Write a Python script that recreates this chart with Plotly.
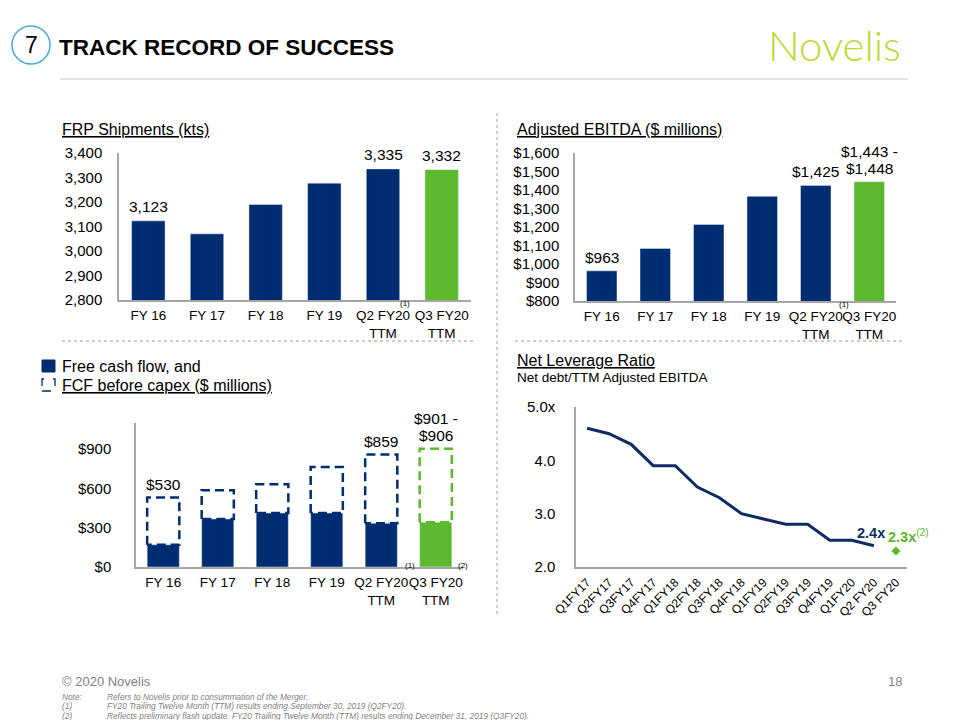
import plotly.graph_objects as go

# ---------------- data ----------------
bar_cats = ["FY 16", "FY 17", "FY 18", "FY 19", "Q2 FY20<br>TTM", "Q3 FY20<br>TTM"]
frp_values = [3123, 3070, 3190, 3277, 3335, 3332]
frp_labels = ["3,123", "", "", "", "3,335", "3,332"]

ebitda_values = [963, 1084, 1214, 1366, 1425, 1445]
ebitda_labels = ["$963", "", "", "", "$1,425", "$1,443 -<br>$1,448"]

fcf_values = [170, 367, 412, 412, 334, 341]
fcf_before_capex = [530, 586, 632, 763, 859, 903]
fcf_labels = ["$530", "", "", "", "$859", "$901 -<br>$906"]

lev_cats = ["Q1FY17", "Q2FY17", "Q3FY17", "Q4FY17", "Q1FY18", "Q2FY18", "Q3FY18",
            "Q4FY18", "Q1FY19", "Q2FY19", "Q3FY19", "Q4FY19", "Q1FY20", "Q2 FY20", "Q3 FY20"]
lev_values = [4.6, 4.5, 4.3, 3.9, 3.9, 3.5, 3.3, 3.0, 2.9, 2.8, 2.8, 2.5, 2.5, 2.4]
lev_flash = 2.3

frp_ticks = [2800, 2900, 3000, 3100, 3200, 3300, 3400]
ebitda_ticks = [800, 900, 1000, 1100, 1200, 1300, 1400, 1500, 1600]
fcf_ticks = [0, 300, 600, 900]
lev_ticks = [2.0, 3.0, 4.0, 5.0]
lev_ticktext = ["2.0", "3.0", "4.0", "5.0x"]

# ---------------- style ----------------
NAVY = "#002d72"
GREEN = "#5cb82c"
LINE_NAVY = "#0e2b63"
AXIS = "#a6a6a6"
FONT = "Liberation Sans, Arial, sans-serif"
W, H = 960, 720
OFF = 8  # page body margin


def X(px):
    return (px - OFF) / W


def Y(py):
    return 1 - (py - OFF) / H


bar_colors = [NAVY] * 5 + [GREEN]
BW = 0.57

fig = go.Figure()

# Chart 1: FRP shipments
fig.add_trace(go.Bar(x=list(range(6)), y=frp_values, marker_color=bar_colors,
                     width=BW, xaxis="x", yaxis="y", showlegend=False))
# Chart 2: EBITDA
fig.add_trace(go.Bar(x=list(range(6)), y=ebitda_values, marker_color=bar_colors,
                     width=BW, xaxis="x2", yaxis="y2", showlegend=False))
# Chart 3: FCF solid bars
fig.add_trace(go.Bar(x=list(range(6)), y=fcf_values, marker_color=bar_colors,
                     width=0.59, xaxis="x3", yaxis="y3", showlegend=False))
# Chart 3: dashed FCF-before-capex boxes
hw = 0.59 / 2
for i in range(6):
    fig.add_trace(go.Scatter(
        x=[i - hw, i - hw, i + hw, i + hw, i - hw],
        y=[fcf_values[i], fcf_before_capex[i], fcf_before_capex[i], fcf_values[i], fcf_values[i]],
        mode="lines", line=dict(color=bar_colors[i], width=2.5, dash="9px,5px"),
        xaxis="x3", yaxis="y3", showlegend=False, hoverinfo="skip"))

# Chart 4: leverage line
fig.add_trace(go.Scatter(x=list(range(len(lev_values))), y=lev_values, mode="lines",
                         line=dict(color=LINE_NAVY, width=3), xaxis="x4", yaxis="y4",
                         showlegend=False))
fig.add_trace(go.Scatter(x=[len(lev_cats) - 1], y=[lev_flash], mode="markers",
                         marker=dict(color=GREEN, size=7, symbol="diamond"),
                         xaxis="x4", yaxis="y4", showlegend=False))

ann = []


def value_labels(xref, yref, values, labels, shift):
    for i, (v, t) in enumerate(zip(values, labels)):
        if not t:
            continue
        lines = t.split("<br>")
        for j, line in enumerate(reversed(lines)):
            ann.append(dict(x=i, y=v, xref=xref, yref=yref, text=line, showarrow=False,
                            yanchor="bottom", yshift=shift + j * 16.5,
                            font=dict(family=FONT, size=15.5, color="#000")))


value_labels("x", "y", frp_values, frp_labels, 4)
value_labels("x2", "y2", ebitda_values, ebitda_labels, 3)
value_labels("x3", "y3", fcf_before_capex, fcf_labels, 3)

# footnote markers on category labels
for xr, p1, p2, yp in [("x", 4.38, 5.55, 303), ("x2", 4.53, 5.6, 304), ("x3", 4.52, 5.5, 572)]:
    for xv, t in [(p1, "(1)"), (p2, "(2)")]:
        ann.append(dict(x=xv, y=Y(yp), xref=xr, yref="paper", text=t, showarrow=False,
                        font=dict(family=FONT, size=8, color="#000")))

# leverage labels
ann.append(dict(x=13, y=lev_values[-1], xref="x4", yref="y4", text="<b>2.4x</b>",
                showarrow=False, yanchor="bottom", yshift=3, xshift=-3,
                font=dict(family=FONT, size=14.5, color=LINE_NAVY)))
ann.append(dict(x=14, y=lev_flash, xref="x4", yref="y4", text="<b>2.3x</b><sup>(2)</sup>",
                showarrow=False, yanchor="bottom", xanchor="left", yshift=4, xshift=-10,
                font=dict(family=FONT, size=14.5, color=GREEN)))


def text(px, py, t, size, color="#000", xanchor="left", **kw):
    ann.append(dict(x=X(px), y=Y(py), xref="paper", yref="paper", text=t, showarrow=False,
                    xanchor=xanchor, yanchor="middle", font=dict(family=FONT, size=size, color=color, **kw)))


# header
text(31, 45, "7", 23, xanchor="center")
text(57, 47, "<b>TRACK RECORD OF SUCCESS</b>", 22.5)
ann.append(dict(x=X(903), y=Y(45), xref="paper", yref="paper", text="Novelis", showarrow=False,
                xanchor="right", yanchor="middle",
                font=dict(family="Lato, Open Sans, sans-serif", size=42, color="#c0d631", weight=300)))

# chart titles
text(60, 129, "<u>FRP Shipments (kts)</u>", 16)
text(515, 129, "<u>Adjusted EBITDA ($ millions)</u>", 16)
text(60, 366, "Free cash flow, and", 16)
text(60, 385, "<u>FCF before capex ($ millions)</u>", 16)
text(515, 360, "<u>Net Leverage Ratio</u>", 16)
text(515, 378, "Net debt/TTM Adjusted EBITDA", 13.5)

# footer
text(60, 681, "© 2020 Novelis", 13, "#7f7f7f")
text(904, 681, "18", 13, "#7f7f7f", xanchor="right")
notes = [("Note:", "Refers to Novelis prior to consummation of the Merger."),
         ("(1)", "FY20 Trailing Twelve Month (TTM) results ending September 30, 2019 (Q2FY20)."),
         ("(2)", "Reflects preliminary flash update. FY20 Trailing Twelve Month (TTM) results ending December 31, 2019 (Q3FY20).")]
for k, (a, b) in enumerate(notes):
    yy = 697 + k * 9.3
    text(60, yy, "<i>%s</i>" % a, 8.3, "#7f7f7f")
    text(105, yy, "<i>%s</i>" % b, 8.3, "#7f7f7f")

shapes = [
    dict(type="circle", xref="paper", yref="paper", x0=X(12), x1=X(50), y0=Y(64), y1=Y(26),
         line=dict(color="#45a9d8", width=1.5)),
    dict(type="line", xref="paper", yref="paper", x0=X(60), x1=X(908), y0=Y(79), y1=Y(79),
         line=dict(color="#e3e3e3", width=2)),
    dict(type="line", xref="paper", yref="paper", x0=X(62), x1=X(474), y0=Y(341), y1=Y(341),
         line=dict(color="#9a9a9a", width=1, dash="dot")),
    dict(type="line", xref="paper", yref="paper", x0=X(515), x1=X(903), y0=Y(341), y1=Y(341),
         line=dict(color="#9a9a9a", width=1, dash="dot")),
    dict(type="line", xref="paper", yref="paper", x0=X(497), x1=X(497), y0=Y(113), y1=Y(615),
         line=dict(color="#9a9a9a", width=1, dash="dot")),
    # legend icons
    dict(type="rect", xref="paper", yref="paper", x0=X(42), x1=X(55), y0=Y(372), y1=Y(360),
         fillcolor=NAVY, line=dict(color=NAVY, width=1)),
    dict(type="rect", xref="paper", yref="paper", x0=X(42), x1=X(55), y0=Y(391), y1=Y(379),
         line=dict(color=NAVY, width=1.3, dash="dash")),
]

tickfont = dict(family=FONT, size=15, color="#000")
catfont = dict(family=FONT, size=13.5, color="#000")


def xax(dom, n, labels, **kw):
    d = dict(domain=[X(dom[0]), X(dom[1])], range=[-0.5, n - 0.5], tickvals=list(range(n)),
             ticktext=labels, showline=True, linecolor=AXIS, linewidth=1.5, showgrid=False,
             zeroline=False, ticks="", tickfont=catfont, fixedrange=True, automargin=False,
             tickangle=0)
    d.update(kw)
    return d


def yax(dom, rng, tv, tt, anchor, standoff, **kw):
    d = dict(domain=[Y(dom[1]), Y(dom[0])], range=rng, tickvals=tv, ticktext=tt, showline=True,
             linecolor=AXIS, linewidth=1.5, showgrid=False, zeroline=False, ticks="",
             tickfont=tickfont, anchor=anchor, ticklabelstandoff=standoff, fixedrange=True,
             automargin=False)
    d.update(kw)
    return d


fig.update_layout(
    width=W, height=H, autosize=False, margin=dict(l=0, r=0, t=0, b=0, autoexpand=False),
    paper_bgcolor="white", plot_bgcolor="white", showlegend=False,
    font=dict(family=FONT),
    xaxis=xax((119, 471), 6, bar_cats, anchor="y", ticklabelstandoff=2),
    yaxis=yax((153, 300), [2800, 3400], frp_ticks, ["{:,}".format(v) for v in frp_ticks], "x", 12),
    xaxis2=xax((575, 896), 6, bar_cats, anchor="y2", ticklabelstandoff=2),
    yaxis2=yax((153, 301), [800, 1600], ebitda_ticks, ["${:,}".format(v) for v in ebitda_ticks], "x2", 11),
    xaxis3=xax((136, 463), 6, bar_cats, anchor="y3", ticklabelstandoff=2),
    yaxis3=yax((423, 567), [0, 1100], fcf_ticks, ["${:,}".format(v) for v in fcf_ticks], "x3", 20),
    xaxis4=xax((576, 907), len(lev_cats), lev_cats, anchor="y4", tickangle=-45,
               tickfont=dict(family=FONT, size=12, color="#000"), ticklabelstandoff=2),
    yaxis4=yax((407, 567), [2, 5], lev_ticks, lev_ticktext, "x4", 16),
    annotations=ann, shapes=shapes, bargap=0.4,
)

fig.write_html("out.html")
